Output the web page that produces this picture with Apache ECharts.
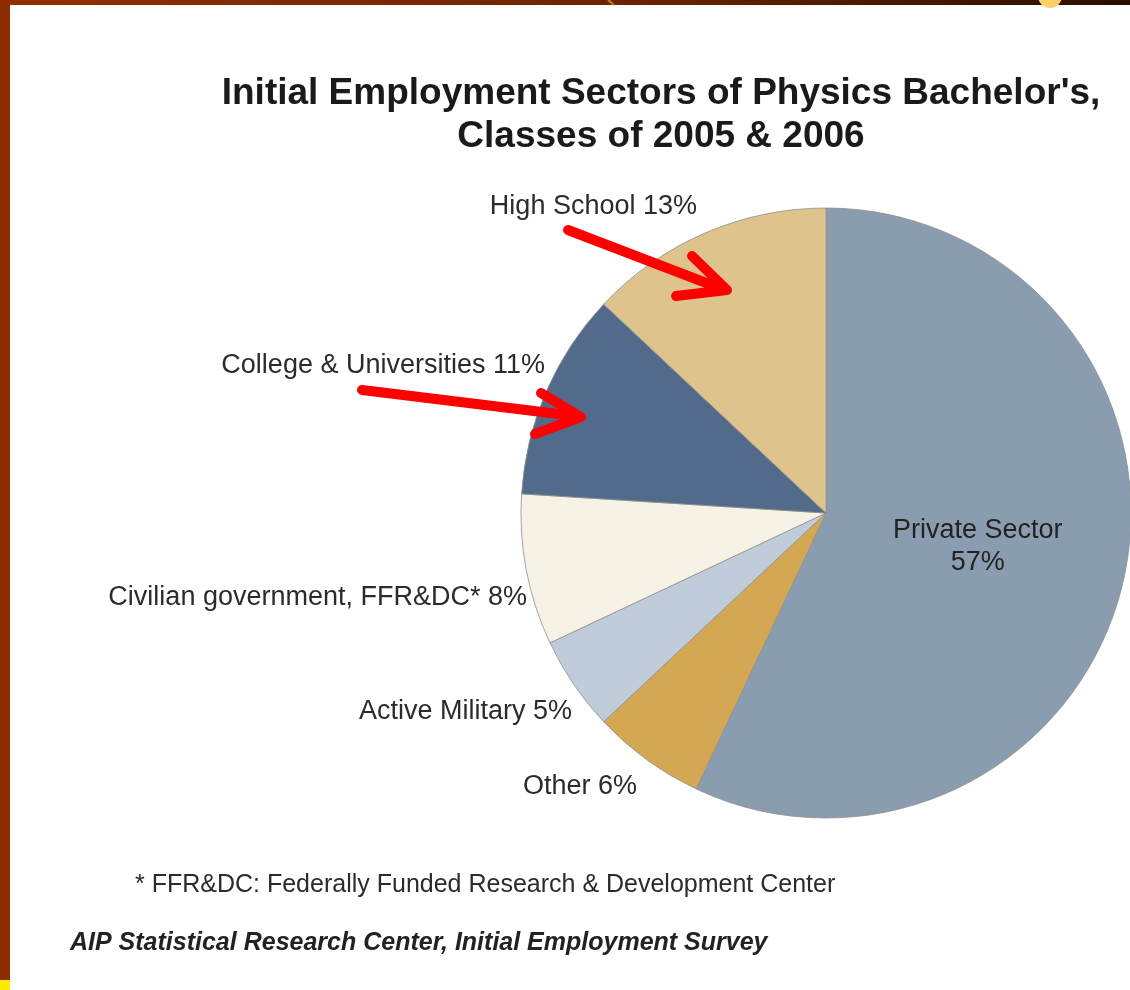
<!DOCTYPE html>
<html>
<head>
<meta charset="utf-8">
<script src="https://cdn.jsdelivr.net/npm/echarts@6/dist/echarts.min.js"></script>
<style>
  html, body { margin: 0; padding: 0; background: #fff; }
  #chart { width: 1130px; height: 990px; }
</style>
</head>
<body>
<div id="chart"></div>
<script>
// sectors, clockwise from 12 o'clock
var sectors = ['Private Sector', 'Other', 'Active Military', 'Civilian government, FFR&DC*', 'College & Universities', 'High School']
var shares = [57, 6, 5, 8, 11, 13]
var sliceColors = ['#8a9db0', '#d4a853', '#c0ccd9', '#f6f2e6', '#536b8b', '#dfc38d']
// right edge / middle of each outside label
var labelAnchors = [null, [637, 787], [572, 712], [527, 598], [545, 366], [697, 207]]

var FONT = '"Liberation Sans", Arial, Helvetica, sans-serif'

var chart = echarts.init(document.getElementById('chart'))

var pieData = sectors.map(function (name, i) {
  var d = {
    name: name,
    value: shares[i],
    itemStyle: { color: sliceColors[i] }
  }
  if (i === 0) {
    d.label = {
      position: 'inside',
      formatter: '{b}\n{c}%',
      lineHeight: 32,
      color: '#222'
    }
  }
  return d
})

// red arrow helper
function arrow(shaft, head) {
  var style = { stroke: '#ff0000', lineWidth: 10, lineCap: 'round', lineJoin: 'round', fill: null }
  return [
    { type: 'polyline', shape: { points: shaft }, style: style, z: 100 },
    { type: 'polyline', shape: { points: head }, style: style, z: 100 }
  ]
}

chart.setOption({
  backgroundColor: '#ffffff',
  animation: false,
  title: {
    text: "Initial Employment Sectors of Physics Bachelor's,\nClasses of 2005 & 2006",
    left: 656,
    top: 67,
    textAlign: 'center',
    textStyle: {
      fontFamily: FONT,
      fontWeight: 'bold',
      fontSize: 37,
      lineHeight: 43,
      color: '#1a1a1a'
    }
  },
  series: [{
    type: 'pie',
    center: [826, 513],
    radius: 305,
    startAngle: 90,
    clockwise: true,
    data: pieData,
    itemStyle: { borderColor: '#8f8f8f', borderWidth: 0.8 },
    label: {
      show: true,
      position: 'outside',
      formatter: '{b} {c}%',
      fontFamily: FONT,
      fontSize: 27,
      color: '#2b2b2b'
    },
    labelLine: { show: false },
    labelLayout: function (params) {
      var a = labelAnchors[params.dataIndex]
      if (!a) return {}
      return { x: a[0], y: a[1], align: 'right', verticalAlign: 'middle', hideOverlap: false }
    },
    emphasis: { disabled: true }
  }],
  graphic: [
    // frame bits of the slide
    { type: 'rect', shape: { x: 0, y: 0, width: 1130, height: 5 },
      style: { fill: new echarts.graphic.LinearGradient(0, 0, 1, 0, [
        { offset: 0, color: '#932e00' }, { offset: 0.55, color: '#6b2400' }, { offset: 1, color: '#2a0e00' }]) } },
    { type: 'rect', shape: { x: 0, y: 0, width: 10, height: 990 }, style: { fill: '#8c2d00' } },
    { type: 'rect', shape: { x: 0, y: 980, width: 10, height: 10 }, style: { fill: '#ffea00' } },
    { type: 'circle', shape: { cx: 1050, cy: -4, r: 12 }, style: { fill: '#ffcf6a' } },
    { type: 'line', shape: { x1: 608, y1: 0, x2: 614, y2: 5 }, style: { stroke: '#d27a1a', lineWidth: 2 } }
  ].concat(
    arrow([[568, 230], [722, 289]], [[692, 256], [727, 290], [676, 296]]),
    arrow([[362, 390], [575, 416]], [[541, 393], [581, 417], [535, 434]]),
    [
      { type: 'text', left: 135, top: 873,
        style: { text: '* FFR&DC: Federally Funded Research & Development Center',
          font: '25px ' + FONT, fill: '#2b2b2b' } },
      { type: 'text', left: 70, top: 931,
        style: { text: 'AIP Statistical Research Center, Initial Employment Survey',
          font: 'italic bold 25px ' + FONT, fill: '#222' } }
    ]
  )
})
</script>
</body>
</html>
